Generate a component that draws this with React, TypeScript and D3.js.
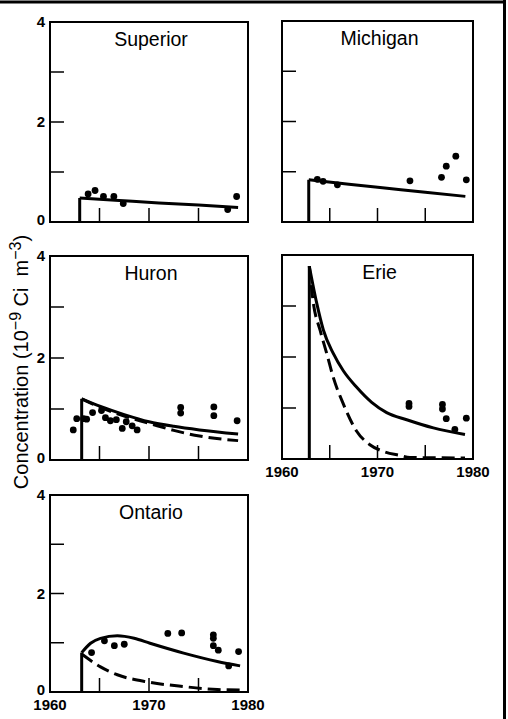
import React from 'react';
import * as d3 from 'd3';

// observed points [year, concentration]
const superiorObs = [[1963.85, 0.56], [1964.55, 0.63], [1965.4, 0.51], [1966.45, 0.51], [1967.4, 0.37], [1977.95, 0.25], [1978.85, 0.51]];
const michiganObs = [[1963.7, 0.85], [1964.3, 0.81], [1965.8, 0.74], [1973.4, 0.82], [1976.7, 0.89], [1977.2, 1.11], [1978.2, 1.31], [1979.3, 0.84]];
const huronObs = [[1962.35, 0.59], [1962.7, 0.81], [1963.4, 0.81], [1963.7, 0.8], [1964.3, 0.93], [1965.2, 0.97], [1965.6, 0.83], [1966.1, 0.77], [1966.7, 0.79], [1967.3, 0.62], [1967.7, 0.75], [1968.3, 0.67], [1968.8, 0.59], [1973.2, 1.03], [1973.2, 0.92], [1976.55, 1.04], [1976.55, 0.87], [1978.9, 0.77]];
const erieObs = [[1973.3, 1.09], [1973.3, 1.03], [1976.8, 1.07], [1976.8, 0.98], [1977.2, 0.79], [1978.1, 0.58], [1979.3, 0.8]];
const ontarioObs = [[1964.2, 0.8], [1965.5, 1.04], [1966.5, 0.94], [1967.5, 0.97], [1971.9, 1.19], [1973.3, 1.2], [1976.5, 1.16], [1976.5, 1.09], [1976.5, 0.94], [1977.0, 0.85], [1978.05, 0.53], [1979.05, 0.82]];

// model curves (solid) and dashed variants
const superiorModel = [[1963, 0.48], [1967, 0.43], [1971, 0.38], [1975, 0.34], [1979, 0.29]];
const michiganModel = [[1962.8, 0.84], [1967, 0.75], [1971, 0.67], [1975, 0.59], [1979.2, 0.51]];
const huronModel = [[1963.2, 1.2], [1965.1, 1.05], [1967.5, 0.89], [1970, 0.75], [1972.5, 0.66], [1975.1, 0.59], [1979, 0.51]];
const huronDashed = [[1963.2, 1.2], [1965.1, 1.03], [1967.5, 0.86], [1970, 0.72], [1972.5, 0.58], [1975.1, 0.47], [1979, 0.38]];
const erieModel = [[1962.86, 3.78], [1963.63, 3.06], [1964.33, 2.53], [1965.37, 2.07], [1966.42, 1.73], [1967.8, 1.41], [1969.39, 1.11], [1970.96, 0.91], [1973.06, 0.77], [1975.85, 0.61], [1979.16, 0.48]];
const erieDashed = [[1962.86, 3.78], [1963.28, 3.06], [1963.98, 2.53], [1964.68, 2.07], [1965.37, 1.6], [1966.42, 1.08], [1967.8, 0.55], [1969.2, 0.28], [1970.6, 0.15], [1972.36, 0.07], [1973.4, 0.03], [1979.16, 0.02]];
const ontarioModel = [[1963.2, 0.8], [1964.1, 0.99], [1965.1, 1.09], [1966.8, 1.14], [1968.5, 1.09], [1970.1, 0.99], [1973.5, 0.79], [1976.9, 0.62], [1979.2, 0.53]];
const ontarioDashed = [[1963.2, 0.77], [1965.1, 0.51], [1966.8, 0.35], [1970, 0.2], [1973.5, 0.11], [1976.9, 0.05], [1979.2, 0.04]];

const yearTicks = [1965, 1970, 1975];
const yearLabels = [1960, 1970, 1980];
const concTicks = [1, 2, 3];
const concLabels = [0, 2, 4];

const FONT = "'Liberation Sans', Arial, Helvetica, sans-serif";

const panels = [
  {name: "Superior", obs: superiorObs, solid: superiorModel, dashed: null, xr: [50, 248], yr: [222, 22], left: true, bottom: false},
  {name: "Michigan", obs: michiganObs, solid: michiganModel, dashed: null, xr: [282, 473], yr: [222, 21], left: false, bottom: false},
  {name: "Huron", obs: huronObs, solid: huronModel, dashed: huronDashed, xr: [50, 248], yr: [460, 256], left: true, bottom: false},
  {name: "Erie", obs: erieObs, solid: erieModel, dashed: erieDashed, xr: [282, 473], yr: [459, 255], left: false, bottom: true},
  {name: "Ontario", obs: ontarioObs, solid: ontarioModel, dashed: ontarioDashed, xr: [50, 248], yr: [692, 495], left: true, bottom: true},
];

class App extends React.Component {
  constructor(props) {
    super(props);
    this.svg = React.createRef();
  }

  componentDidMount() {
    this.renderChart();
  }

  renderPanel = (svg, p) => {
    let x = d3.scaleLinear().domain([1960, 1980]).range(p.xr);
    let y = d3.scaleLinear().domain([0, 4]).range(p.yr);
    let g = svg.append("g");

    // frame
    g.append("rect")
      .attr("x", p.xr[0]).attr("y", p.yr[1])
      .attr("width", p.xr[1] - p.xr[0]).attr("height", p.yr[0] - p.yr[1])
      .attr("fill", "none").attr("stroke", "#000").attr("stroke-width", 2);

    // inward ticks
    g.selectAll(".xt").data(yearTicks).enter().append("line")
      .attr("x1", d => x(d)).attr("x2", d => x(d))
      .attr("y1", y(0)).attr("y2", y(0) - 14)
      .attr("stroke", "#000").attr("stroke-width", 1.5);
    g.selectAll(".yt").data(concTicks).enter().append("line")
      .attr("x1", x(1960)).attr("x2", x(1960) + 14)
      .attr("y1", d => y(d)).attr("y2", d => y(d))
      .attr("stroke", "#000").attr("stroke-width", 1.5);

    if (p.left) {
      g.selectAll(".yl").data(concLabels).enter().append("text")
        .attr("x", x(1960) - 5).attr("y", d => y(d)).attr("dy", d => d === 0 ? "0.2em" : "0.36em")
        .attr("text-anchor", "end")
        .attr("font-family", FONT).attr("font-size", 15).attr("font-weight", "bold")
        .text(d => d);
    }
    if (p.bottom) {
      g.selectAll(".xl").data(yearLabels).enter().append("text")
        .attr("x", d => x(d)).attr("y", y(0) + 18)
        .attr("text-anchor", "middle")
        .attr("font-family", FONT).attr("font-size", 15).attr("font-weight", "bold")
        .text(d => d);
    }

    g.append("text")
      .attr("x", (p.xr[0] + p.xr[1]) / 2 + 2).attr("y", p.yr[1] + 24)
      .attr("text-anchor", "middle")
      .attr("font-family", FONT).attr("font-size", 19.5)
      .text(p.name);

    let line = d3.line()
      .x(d => x(d[0])).y(d => y(d[1]))
      .curve(d3.curveMonotoneX);

    // start of input: vertical rise
    let s = p.solid[0];
    g.append("line")
      .attr("x1", x(s[0])).attr("x2", x(s[0]))
      .attr("y1", y(0)).attr("y2", y(s[1]))
      .attr("stroke", "#000").attr("stroke-width", 3);

    if (p.dashed) {
      g.append("path").datum(p.dashed)
        .attr("d", line)
        .attr("fill", "none").attr("stroke", "#000").attr("stroke-width", 3)
        .attr("stroke-dasharray", "13,6");
    }
    g.append("path").datum(p.solid)
      .attr("d", line)
      .attr("fill", "none").attr("stroke", "#000").attr("stroke-width", 3);

    g.selectAll(".dot").data(p.obs).enter().append("circle")
      .attr("cx", d => x(d[0])).attr("cy", d => y(d[1]))
      .attr("r", 3.4).attr("fill", "#000");
  }

  renderChart = () => {
    let svg = d3.select(this.svg.current);
    svg.selectAll("*").remove();

    // outer box edges (top and right only visible)
    svg.append("line").attr("x1", 0).attr("x2", 506).attr("y1", 2).attr("y2", 2)
      .attr("stroke", "#000").attr("stroke-width", 3);
    svg.append("line").attr("x1", 504.5).attr("x2", 504.5).attr("y1", 0).attr("y2", 719)
      .attr("stroke", "#000").attr("stroke-width", 3);

    panels.forEach(p => this.renderPanel(svg, p));

    // y axis title
    let t = svg.append("text")
      .attr("transform", "translate(28,362) rotate(-90)")
      .attr("text-anchor", "middle")
      .attr("font-family", FONT).attr("font-size", 20)
      .attr("style", "white-space:pre");
    t.append("tspan").text("Concentration (10");
    t.append("tspan").attr("dy", -7).attr("font-size", 16).text("\u22129");
    t.append("tspan").attr("dy", 7).text(" Ci  m");
    t.append("tspan").attr("dy", -7).attr("font-size", 16).text("\u22123");
    t.append("tspan").attr("dy", 7).text(")");
  }

  render() {
    return (
      <svg ref={this.svg} width={508} height={719}
        style={{position: "absolute", left: 0, top: 0, background: "#fff"}} />
    );
  }
}

export default App;
